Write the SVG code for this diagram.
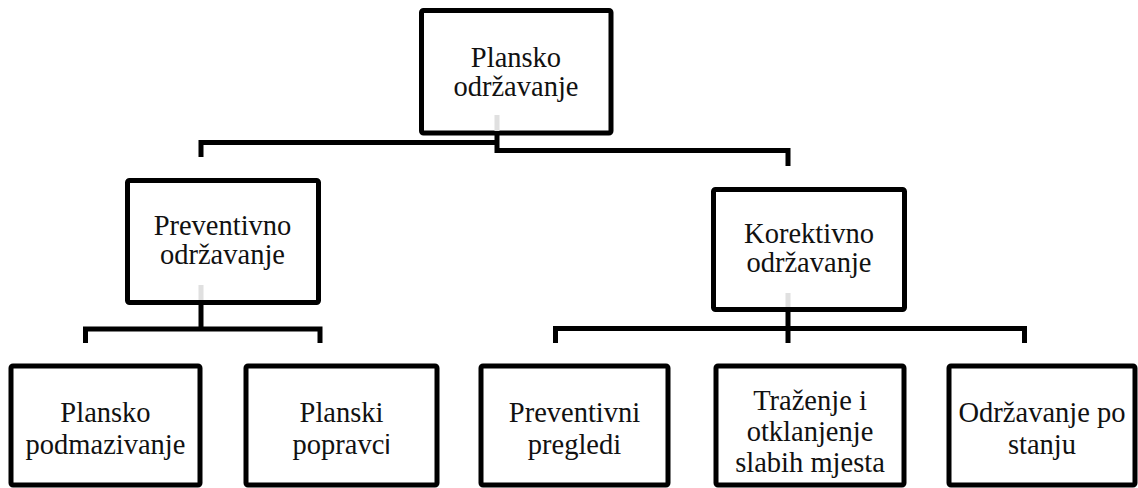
<svg xmlns="http://www.w3.org/2000/svg" width="1138" height="488" viewBox="0 0 1138 488">
<style>
.box{fill:#fff;stroke:#000;stroke-width:5;}
.con{fill:none;stroke:#000;stroke-width:5;stroke-linejoin:miter;stroke-linecap:butt;}
.stub{fill:#e0e0e0;}
</style>
<rect width="1138" height="488" fill="#fff"/>
<g id="connectors">
<path class="con" d="M201,157 V142.5 H499"/>
<path class="con" d="M497,133 V150.5 H788 V166"/>
<path class="con" d="M201,302.5 V329"/>
<path class="con" d="M85.5,343 V329 H320 V343"/>
<path class="con" d="M788,309.5 V343"/>
<path class="con" d="M555.5,343 V328.5 H1024.5 V343"/>
</g>
<g font-family="Liberation Serif, Tinos, DejaVu Serif, Noto Serif, serif" font-size="28.5" fill="#111" text-anchor="middle">
<g id="n-plansko-odrzavanje">
<rect class="box" x="421.5" y="10.5" width="189.5" height="122.5" rx="2"/>
<rect class="stub" x="494.5" y="115" width="5" height="16"/>
<text x="516" y="67">Plansko</text>
<text x="516" y="96">održavanje</text>
</g>
<g id="n-preventivno">
<rect class="box" x="127.5" y="180.5" width="191" height="122" rx="2"/>
<rect class="stub" x="198.5" y="285" width="5" height="15"/>
<text x="222.5" y="235">Preventivno</text>
<text x="222.5" y="264">održavanje</text>
</g>
<g id="n-korektivno">
<rect class="box" x="713.5" y="189.5" width="191" height="120" rx="2"/>
<rect class="stub" x="785.5" y="293" width="5" height="14"/>
<text x="809" y="243">Korektivno</text>
<text x="809" y="272">održavanje</text>
</g>
<g id="n-plansko-podmazivanje">
<rect class="box" x="11" y="366" width="189" height="119" rx="2"/>
<text x="105.5" y="422">Plansko</text>
<text x="105.5" y="454">podmazivanje</text>
</g>
<g id="n-planski-popravci">
<rect class="box" x="246" y="366" width="191" height="119" rx="2"/>
<text x="341.5" y="422">Planski</text>
<text x="341.5" y="454">popravc<tspan font-family="Liberation Sans, Arimo, sans-serif" font-size="27">i</tspan></text>
</g>
<g id="n-preventivni-pregledi">
<rect class="box" x="481" y="366" width="187" height="119" rx="2"/>
<text x="574.5" y="422">Preventivni</text>
<text x="574.5" y="454">pregledi</text>
</g>
<g id="n-trazenje">
<rect class="box" x="716" y="366" width="188" height="119" rx="2"/>
<text x="810" y="410">Traženje i</text>
<text x="810" y="441">otklanjenje</text>
<text x="810" y="472">slabih mjesta</text>
</g>
<g id="n-odrzavanje-po-stanju">
<rect class="box" x="949" y="366" width="186" height="119" rx="2"/>
<text x="1042" y="422">Održavanje po</text>
<text x="1042" y="454">stanju</text>
</g>
</g>
</svg>
